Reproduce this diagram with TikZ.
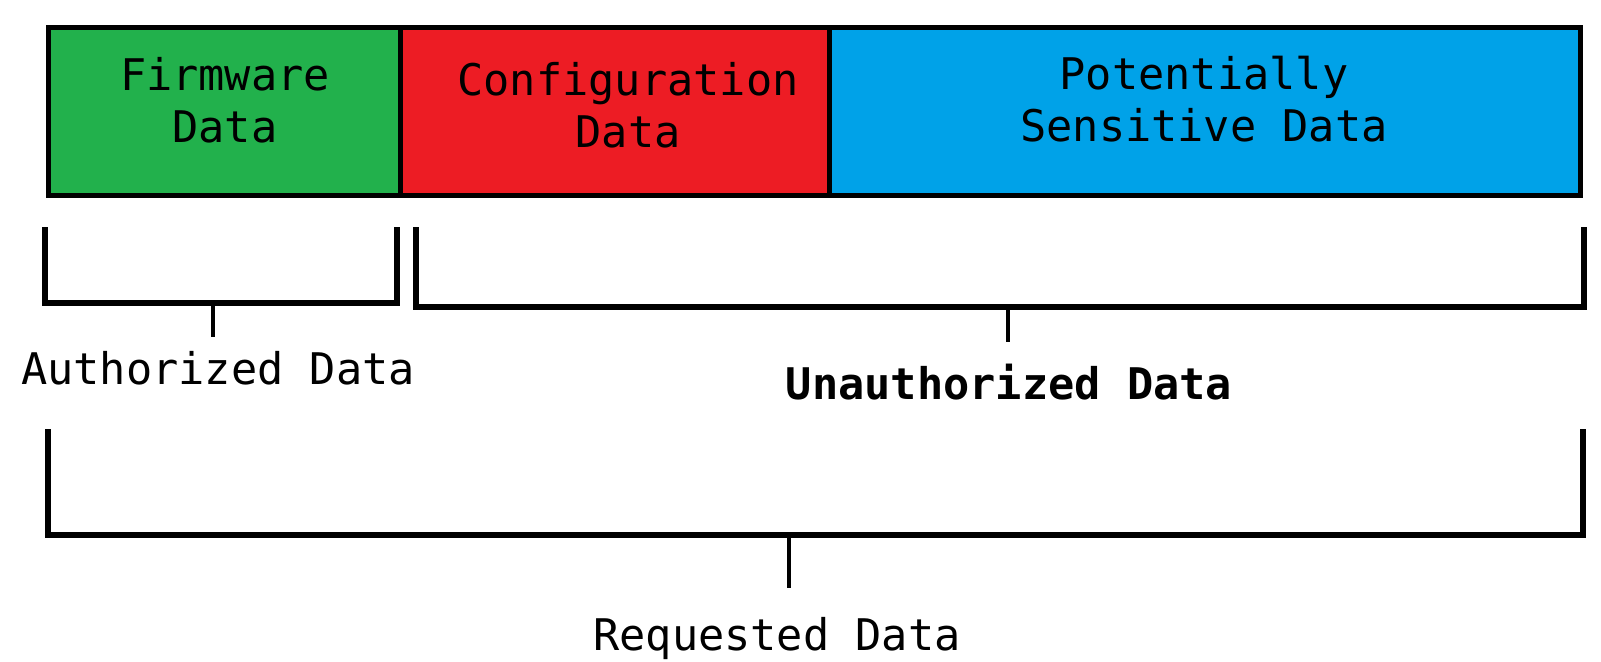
\documentclass[tikz,border=0pt]{standalone}
\usepackage{fontspec}
\setmonofont{DejaVu Sans Mono}
\definecolor{fwgreen}{RGB}{34,177,76}
\definecolor{cfgred}{RGB}{237,28,36}
\definecolor{sensblue}{RGB}{0,162,232}
\begin{document}
\begin{tikzpicture}[x=0.5pt,y=-0.5pt,
  segment/.style={draw=black, line width=2.5pt, inner sep=0pt, anchor=north west,
                  minimum height=83.75pt},
  lbl/.style={font=\fontsize{21.8pt}{26pt}\selectfont\ttfamily, align=center,
              inner sep=0pt, anchor=base},
  brace/.style={draw=black, line width=2.6pt, line join=miter},
  stem/.style={draw=black, line width=2.1pt}]
\useasboundingbox (0,0) rectangle (1601,661);

% memory layout bar (anchors are on the outer edge of the border)
\node[segment, fill=fwgreen,   minimum width=176pt]   (fw)   at (45.5,25)  {};
\node[segment, fill=cfgred,    minimum width=214.5pt] (cfg)  at (397.5,25) {};
\node[segment, fill=sensblue,  minimum width=375.5pt] (sens) at (826.5,25) {};

% two-line labels sit on the baseline of their last line
\node[lbl] (fwtext)   at (225,142)  {Firmware\\Data};
\node[lbl] (cfgtext)  at (628,147)  {Configuration\\Data};
\node[lbl] (senstext) at (1204,141) {Potentially\\Sensitive Data};

% authorized range
\coordinate (a1) at (45,227);
\coordinate (a2) at (45,303);
\coordinate (a3) at (397,303);
\coordinate (a4) at (397,227);
\coordinate (am) at (213,303);
\coordinate (ae) at (213,337);
\path[brace] (a1) -- (a2) -- (a3) -- (a4);
\path[stem] (am) -- (ae);
\node[lbl] (auth) at (218,384) {Authorized Data};

% unauthorized range
\coordinate (u1) at (416,227);
\coordinate (u2) at (416,307);
\coordinate (u3) at (1584,307);
\coordinate (u4) at (1584,227);
\coordinate (um) at (1008,307);
\coordinate (ue) at (1008,342);
\path[brace] (u1) -- (u2) -- (u3) -- (u4);
\path[stem] (um) -- (ue);
\node[lbl, font=\fontsize{21.8pt}{26pt}\selectfont\ttfamily\bfseries] (unauth) at (1009,399) {Unauthorized Data};

% whole request
\coordinate (r1) at (48,429);
\coordinate (r2) at (48,535);
\coordinate (r3) at (1583,535);
\coordinate (r4) at (1583,429);
\coordinate (rm) at (789,535);
\coordinate (re) at (789,588);
\path[brace] (r1) -- (r2) -- (r3) -- (r4);
\path[stem] (rm) -- (re);
\node[lbl] (req) at (777,650) {Requested Data};
\end{tikzpicture}
\end{document}
